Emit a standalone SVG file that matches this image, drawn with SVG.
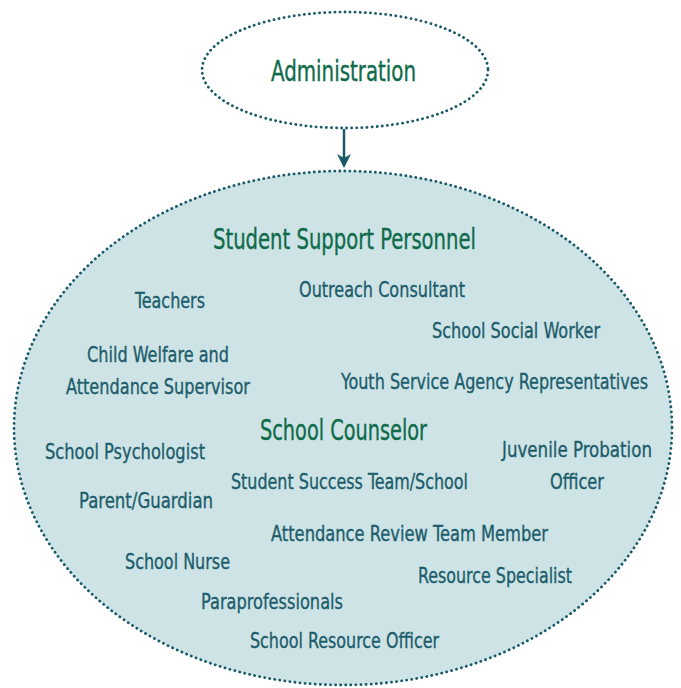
<svg xmlns="http://www.w3.org/2000/svg" width="681" height="688" viewBox="0 0 681 688">
<defs>
<style>
.t{font-family:"Liberation Sans Narrow","DejaVu Sans Condensed","Liberation Sans",sans-serif;font-stretch:condensed;stroke-width:0.35}
.h{fill:#0f6b4a;stroke:#0f6b4a;font-size:28px}
.i{fill:#1d5d6b;stroke:#1d5d6b;font-size:22px}
.dot{stroke:#1a5a68;stroke-width:2.8;stroke-dasharray:0.1 5;stroke-linecap:round}
</style>
</defs>
<rect width="681" height="688" fill="#ffffff"/>
<g id="connectors">
<line x1="344" y1="129" x2="344" y2="160" stroke="#1a5a68" stroke-width="2.5"/>
<path d="M337,154 L344,168 L351,154 L344,158 z" fill="#1a5a68"/>
</g>
<g id="admin">
<ellipse cx="345" cy="70" rx="143" ry="58" fill="#ffffff" class="dot"/>
<text class="t h" x="271" y="81" textLength="145" lengthAdjust="spacingAndGlyphs">Administration</text>
</g>
<g id="support">
<ellipse cx="343" cy="428" rx="329" ry="257" fill="#cde3e6" class="dot"/>
<text class="t h" x="213" y="249" textLength="263" lengthAdjust="spacingAndGlyphs">Student Support Personnel</text>
<text class="t h" x="260" y="440" textLength="167" lengthAdjust="spacingAndGlyphs">School Counselor</text>
<text class="t i" x="135" y="308" textLength="70" lengthAdjust="spacingAndGlyphs">Teachers</text>
<text class="t i" x="299" y="297" textLength="166" lengthAdjust="spacingAndGlyphs">Outreach Consultant</text>
<text class="t i" x="432" y="338" textLength="168" lengthAdjust="spacingAndGlyphs">School Social Worker</text>
<text class="t i" x="87" y="362" textLength="142" lengthAdjust="spacingAndGlyphs">Child Welfare and</text>
<text class="t i" x="66" y="394" textLength="184" lengthAdjust="spacingAndGlyphs">Attendance Supervisor</text>
<text class="t i" x="341" y="389" textLength="307" lengthAdjust="spacingAndGlyphs">Youth Service Agency Representatives</text>
<text class="t i" x="502" y="457" textLength="150" lengthAdjust="spacingAndGlyphs">Juvenile Probation</text>
<text class="t i" x="550" y="489" textLength="54" lengthAdjust="spacingAndGlyphs">Officer</text>
<text class="t i" x="45" y="459" textLength="160" lengthAdjust="spacingAndGlyphs">School Psychologist</text>
<text class="t i" x="231" y="489" textLength="237" lengthAdjust="spacingAndGlyphs">Student Success Team/School</text>
<text class="t i" x="79" y="508" textLength="134" lengthAdjust="spacingAndGlyphs">Parent/Guardian</text>
<text class="t i" x="271" y="541" textLength="277" lengthAdjust="spacingAndGlyphs">Attendance Review Team Member</text>
<text class="t i" x="125" y="569" textLength="105" lengthAdjust="spacingAndGlyphs">School Nurse</text>
<text class="t i" x="418" y="583" textLength="154" lengthAdjust="spacingAndGlyphs">Resource Specialist</text>
<text class="t i" x="201" y="609" textLength="142" lengthAdjust="spacingAndGlyphs">Paraprofessionals</text>
<text class="t i" x="250" y="648" textLength="189" lengthAdjust="spacingAndGlyphs">School Resource Officer</text>
</g>
</svg>
